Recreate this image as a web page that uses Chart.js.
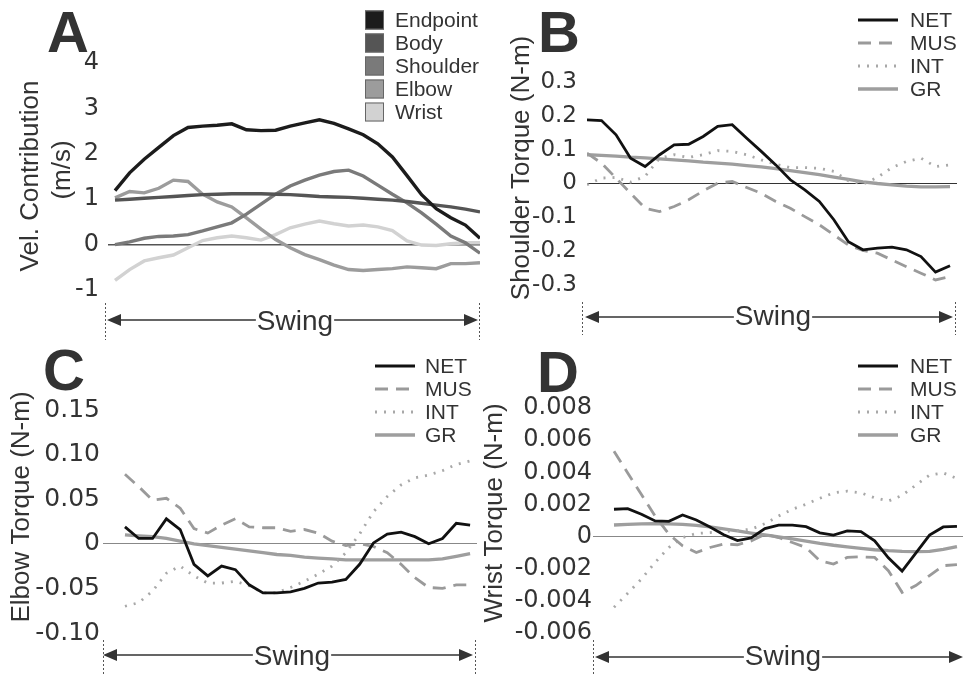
<!DOCTYPE html>
<html>
<head>
<meta charset="utf-8">
<script src="https://cdn.jsdelivr.net/npm/chart.js@4.4.1/dist/chart.umd.min.js"></script>
<style>
  body { margin: 0; background: #fff; }
  #wrap { position: relative; width: 964px; height: 674px; overflow: hidden; }
  #wrap canvas { position: absolute; }
</style>
</head>
<body>
<div id="wrap">
  <canvas id="chartA" width="482" height="340" style="left:0;top:0"></canvas>
  <canvas id="chartB" width="494" height="340" style="left:470px;top:0"></canvas>
  <canvas id="chartC" width="482" height="334" style="left:0;top:340px"></canvas>
  <canvas id="chartD" width="494" height="334" style="left:470px;top:340px"></canvas>
</div>
<script>
// samples along the swing (shared by every panel)
const swingSteps = [0,1,2,3,4,5,6,7,8,9,10,11,12,13,14,15,16,17,18,19,20,21,22,23,24,25];

// A - velocity contribution (m/s)
const velEndpoint = [1.19,1.58,1.88,2.14,2.40,2.58,2.61,2.63,2.66,2.53,2.51,2.52,2.61,2.68,2.75,2.67,2.55,2.42,2.22,1.93,1.52,1.10,0.79,0.59,0.43,0.14];
const velBody     = [0.98,1.00,1.02,1.04,1.06,1.08,1.10,1.11,1.12,1.12,1.12,1.11,1.10,1.08,1.06,1.05,1.04,1.02,1.00,0.98,0.95,0.91,0.87,0.83,0.78,0.72];
const velShoulder = [0.00,0.06,0.14,0.18,0.19,0.22,0.30,0.39,0.48,0.67,0.89,1.11,1.29,1.42,1.53,1.61,1.64,1.51,1.31,1.11,0.92,0.70,0.45,0.19,0.04,-0.19];
const velElbow    = [1.03,1.17,1.14,1.24,1.42,1.39,1.11,0.94,0.83,0.59,0.34,0.11,-0.07,-0.22,-0.33,-0.45,-0.55,-0.57,-0.55,-0.53,-0.49,-0.51,-0.53,-0.42,-0.42,-0.40];
const velWrist    = [-0.79,-0.55,-0.36,-0.29,-0.23,-0.07,0.09,0.15,0.19,0.15,0.10,0.22,0.37,0.45,0.52,0.46,0.41,0.43,0.39,0.31,0.08,-0.01,-0.02,0.02,0.04,0.04];
const velTicks = [-1,0,1,2,3,4];
const velTickLabels = ['-1','0','1','2','3','4'];

// B - shoulder torque (N-m)
const shNet = [0.188,0.186,0.144,0.075,0.050,0.085,0.114,0.116,0.139,0.169,0.174,0.134,0.095,0.055,0.011,-0.019,-0.053,-0.107,-0.172,-0.196,-0.191,-0.188,-0.196,-0.216,-0.262,-0.243];
const shMus = [0.090,0.060,0.016,-0.029,-0.073,-0.083,-0.068,-0.048,-0.022,0.001,0.006,-0.012,-0.029,-0.053,-0.073,-0.098,-0.122,-0.152,-0.182,-0.198,-0.206,-0.226,-0.246,-0.265,-0.285,-0.275];
const shInt = [-0.004,0.016,0.018,0.004,0.021,0.075,0.085,0.077,0.085,0.097,0.095,0.085,0.070,0.057,0.047,0.047,0.045,0.036,0.008,-0.002,0.018,0.047,0.065,0.075,0.050,0.055];
const shGr  = [0.085,0.083,0.081,0.078,0.076,0.073,0.070,0.067,0.063,0.060,0.057,0.053,0.049,0.044,0.038,0.032,0.026,0.019,0.012,0.005,0.000,-0.004,-0.008,-0.010,-0.010,-0.009];
const shTicks = [-0.3,-0.2,-0.1,0,0.1,0.2,0.3];
const shTickLabels = ['-0.3','-0.2','-0.1','0','0.1','0.2','0.3'];

// C - elbow torque (N-m)
const elNet = [0.019,0.006,0.006,0.028,0.016,-0.023,-0.036,-0.025,-0.029,-0.046,-0.055,-0.055,-0.054,-0.050,-0.044,-0.043,-0.040,-0.023,0.001,0.011,0.013,0.008,0.000,0.006,0.023,0.021];
const elMus = [0.078,0.064,0.049,0.051,0.040,0.017,0.012,0.021,0.028,0.019,0.018,0.018,0.014,0.016,0.012,0.003,-0.002,0.000,-0.003,-0.010,-0.023,-0.038,-0.049,-0.050,-0.046,-0.046];
const elInt = [-0.070,-0.066,-0.053,-0.033,-0.025,-0.036,-0.044,-0.044,-0.042,-0.047,-0.055,-0.055,-0.049,-0.042,-0.034,-0.025,-0.010,0.011,0.036,0.053,0.066,0.074,0.077,0.082,0.089,0.093];
const elGr  = [0.010,0.009,0.008,0.006,0.003,0.000,-0.002,-0.004,-0.006,-0.008,-0.010,-0.012,-0.013,-0.015,-0.016,-0.017,-0.018,-0.018,-0.018,-0.018,-0.018,-0.018,-0.018,-0.017,-0.014,-0.011];
const elTicks = [-0.10,-0.05,0,0.05,0.10,0.15];
const elTickLabels = ['-0.10','-0.05','0','0.05','0.10','0.15'];

// D - wrist torque (N-m)
const wrNet = [0.00170,0.00174,0.00139,0.00097,0.00095,0.00134,0.00103,0.00060,0.00011,-0.00025,-0.00008,0.00050,0.00071,0.00071,0.00062,0.00023,0.00009,0.00035,0.00031,-0.00027,-0.00132,-0.00215,-0.00103,0.00009,0.00060,0.00064];
const wrMus = [0.00531,0.00396,0.00262,0.00128,0.00015,-0.00058,-0.00099,-0.00068,-0.00047,-0.00051,-0.00027,0.00015,-0.00006,-0.00037,-0.00068,-0.00150,-0.00171,-0.00130,-0.00126,-0.00130,-0.00212,-0.00347,-0.00305,-0.00243,-0.00181,-0.00175];
const wrInt = [-0.00440,-0.00353,-0.00264,-0.00161,-0.00068,-0.00006,0.00019,0.00025,0.00031,0.00037,0.00046,0.00080,0.00128,0.00170,0.00201,0.00238,0.00272,0.00283,0.00272,0.00241,0.00221,0.00256,0.00320,0.00382,0.00396,0.00361];
const wrGr  = [0.00072,0.00076,0.00079,0.00080,0.00079,0.00076,0.00070,0.00060,0.00048,0.00035,0.00022,0.00010,-0.00002,-0.00015,-0.00028,-0.00042,-0.00054,-0.00064,-0.00073,-0.00082,-0.00088,-0.00092,-0.00094,-0.00092,-0.00080,-0.00062];
const wrTicks = [-0.006,-0.004,-0.002,0,0.002,0.004,0.006,0.008];
const wrTickLabels = ['-0.006','-0.004','-0.002','0','0.002','0.004','0.006','0.008'];

const FONT = '"Liberation Sans", Arial, sans-serif';
const TICK_FONT = '"DejaVu Sans", Verdana, sans-serif';
const TEXT = '#333';
const AXIS_W = 100;

// letters, axis titles, legends and the swing arrow
const panelDecor = {
    id: 'panelDecor',
    afterDraw(chart, args, o) {
        const ctx = chart.ctx;
        ctx.save();
        ctx.fillStyle = TEXT;

        // panel letter
        ctx.font = 'bold 58px ' + FONT;
        ctx.textAlign = 'left';
        ctx.textBaseline = 'alphabetic';
        ctx.fillText(o.letter, o.letterX, o.letterY);

        // rotated axis title(s)
        ctx.font = '26px ' + FONT;
        ctx.textAlign = 'center';
        ctx.textBaseline = 'middle';
        o.titles.forEach(t => {
            ctx.save();
            ctx.translate(t.x, t.y);
            ctx.rotate(-Math.PI / 2);
            ctx.fillText(t.text, 0, 0);
            ctx.restore();
        });

        // legend built from the datasets
        const lg = o.legend;
        ctx.font = '21px ' + FONT;
        ctx.textAlign = 'left';
        chart.data.datasets.forEach((ds, i) => {
            const y = lg.y + i * lg.step;
            if (lg.box) {
                ctx.fillStyle = ds.borderColor;
                ctx.fillRect(lg.x, y - 9.5, 19, 19);
                ctx.strokeStyle = '#666';
                ctx.lineWidth = 1;
                ctx.setLineDash([]);
                ctx.strokeRect(lg.x + 0.5, y - 9, 18, 18);
            } else {
                ctx.strokeStyle = ds.borderColor;
                ctx.lineWidth = ds.borderWidth;
                ctx.setLineDash(ds.borderDash || []);
                ctx.beginPath();
                ctx.moveTo(lg.x, y);
                ctx.lineTo(lg.x + 40, y);
                ctx.stroke();
            }
            ctx.fillStyle = TEXT;
            ctx.fillText(ds.label, lg.textX, y + 1);
        });

        // swing arrow
        const s = o.swing;
        ctx.setLineDash([]);
        ctx.font = '28px ' + FONT;
        ctx.textAlign = 'center';
        ctx.textBaseline = 'alphabetic';
        ctx.fillStyle = TEXT;
        ctx.fillText('Swing', s.cx, s.base);
        const w = ctx.measureText('Swing').width;
        ctx.strokeStyle = TEXT;
        ctx.lineWidth = 1.5;
        ctx.beginPath();
        ctx.moveTo(s.x0 + 10, s.y);
        ctx.lineTo(s.cx - w / 2 - 1, s.y);
        ctx.moveTo(s.cx + w / 2 + 1, s.y);
        ctx.lineTo(s.x1 - 10, s.y);
        ctx.stroke();
        ctx.beginPath();
        ctx.moveTo(s.x0, s.y);
        ctx.lineTo(s.x0 + 14, s.y - 6);
        ctx.lineTo(s.x0 + 14, s.y + 6);
        ctx.closePath();
        ctx.moveTo(s.x1, s.y);
        ctx.lineTo(s.x1 - 14, s.y - 6);
        ctx.lineTo(s.x1 - 14, s.y + 6);
        ctx.closePath();
        ctx.fill();

        // dotted swing limits
        ctx.strokeStyle = '#555';
        ctx.lineWidth = 1;
        ctx.setLineDash([2, 2]);
        s.marks.forEach(x => {
            ctx.beginPath();
            ctx.moveTo(x + 0.5, s.markTop);
            ctx.lineTo(x + 0.5, s.markBottom);
            ctx.stroke();
        });
        ctx.restore();
    }
};

function lineSet(label, values, color, width, dash) {
    return {
        label: label,
        data: values.map((v, i) => ({ x: swingSteps[i], y: v })),
        borderColor: color,
        borderWidth: width,
        borderDash: dash || [],
        borderCapStyle: 'butt',
        pointRadius: 0,
        tension: 0,
        fill: false
    };
}

function torqueSets(net, mus, int, gr) {
    return [
        lineSet('NET', net, '#111', 2.8),
        lineSet('MUS', mus, '#9a9a9a', 2.8, [13, 8]),
        lineSet('INT', int, '#a8a8a8', 2.8, [2, 7]),
        lineSet('GR', gr, '#9e9e9e', 3.3)
    ];
}

function makePanel(id, datasets, p) {
    return new Chart(document.getElementById(id), {
        type: 'line',
        data: { datasets: datasets },
        plugins: [panelDecor],
        options: {
            responsive: false,
            animation: false,
            devicePixelRatio: 1,
            layout: { padding: p.padding },
            plugins: {
                legend: { display: false },
                tooltip: { enabled: false },
                panelDecor: p.decor
            },
            scales: {
                x: { type: 'linear', display: false, min: p.xMin, max: p.xMax },
                y: {
                    min: p.ticks[0],
                    max: p.ticks[p.ticks.length - 1],
                    afterFit: scale => { scale.width = AXIS_W; },
                    afterBuildTicks: scale => { scale.ticks = p.ticks.map(v => ({ value: v })); },
                    border: { display: false },
                    grid: {
                        drawTicks: false,
                        lineWidth: p.zeroWidth,
                        color: c => (c.tick && c.tick.value === 0) ? p.zeroColor : 'rgba(0,0,0,0)'
                    },
                    ticks: {
                        autoSkip: false,
                        padding: p.tickPad,
                        color: TEXT,
                        font: { family: TICK_FONT, size: p.tickSize },
                        callback: (v, i) => p.labels[i]
                    }
                }
            }
        }
    });
}

makePanel('chartA', [
    lineSet('Endpoint', velEndpoint, '#1c1c1c', 3.4),
    lineSet('Body', velBody, '#555', 3.4),
    lineSet('Shoulder', velShoulder, '#7a7a7a', 3.4),
    lineSet('Elbow', velElbow, '#9c9c9c', 3.4),
    lineSet('Wrist', velWrist, '#d2d2d2', 3.4)
], {
    padding: { left: 108 - AXIS_W, right: 2, top: 63, bottom: 50 },
    xMin: -0.48, xMax: 25,
    ticks: velTicks, labels: velTickLabels, tickSize: 24, tickPad: 9,
    zeroColor: '#555', zeroWidth: 1.5,
    decor: {
        letter: 'A', letterX: 47, letterY: 52,
        titles: [{ text: 'Vel. Contribution', x: 31, y: 176 }, { text: '(m/s)', x: 63, y: 170 }],
        legend: { box: true, x: 365, y: 20, step: 23, textX: 395 },
        swing: { y: 320, x0: 107, x1: 478, cx: 295, base: 330, marks: [105, 479], markTop: 303, markBottom: 340 }
    }
});

makePanel('chartB', torqueSets(shNet, shMus, shInt, shGr), {
    padding: { left: 117 - AXIS_W, right: 7, top: 82, bottom: 55 },
    xMin: 0, xMax: 25.48,
    ticks: shTicks, labels: shTickLabels, tickSize: 23, tickPad: 10,
    zeroColor: '#333', zeroWidth: 1,
    decor: {
        letter: 'B', letterX: 68, letterY: 52,
        titles: [{ text: 'Shoulder Torque (N-m)', x: 52, y: 168 }],
        legend: { box: false, x: 388, y: 20, step: 23, textX: 440 },
        swing: { y: 317, x0: 115, x1: 483, cx: 303, base: 325, marks: [112, 485], markTop: 302, markBottom: 335 }
    }
});

makePanel('chartC', torqueSets(elNet, elMus, elInt, elGr), {
    padding: { left: 103 - AXIS_W, right: 5, top: 70, bottom: 41 },
    xMin: -1.59, xMax: 25.5,
    ticks: elTicks, labels: elTickLabels, tickSize: 25, tickPad: 3,
    zeroColor: '#888', zeroWidth: 1,
    decor: {
        letter: 'C', letterX: 43, letterY: 50,
        titles: [{ text: 'Elbow Torque (N-m)', x: 22, y: 167 }],
        legend: { box: false, x: 375, y: 26, step: 23, textX: 425 },
        swing: { y: 315, x0: 103, x1: 473, cx: 292, base: 325, marks: [103, 475], markTop: 300, markBottom: 334 }
    }
});

makePanel('chartD', torqueSets(wrNet, wrMus, wrInt, wrGr), {
    padding: { left: 123 - AXIS_W, right: 1, top: 68, bottom: 41 },
    xMin: -1.53, xMax: 25.44,
    ticks: wrTicks, labels: wrTickLabels, tickSize: 24, tickPad: 1,
    zeroColor: '#888', zeroWidth: 1,
    decor: {
        letter: 'D', letterX: 67, letterY: 52,
        titles: [{ text: 'Wrist Torque (N-m)', x: 25, y: 173 }],
        legend: { box: false, x: 388, y: 26, step: 23, textX: 440 },
        swing: { y: 317, x0: 125, x1: 493, cx: 313, base: 325, marks: [123], markTop: 300, markBottom: 334 }
    }
});
</script>
</body>
</html>
